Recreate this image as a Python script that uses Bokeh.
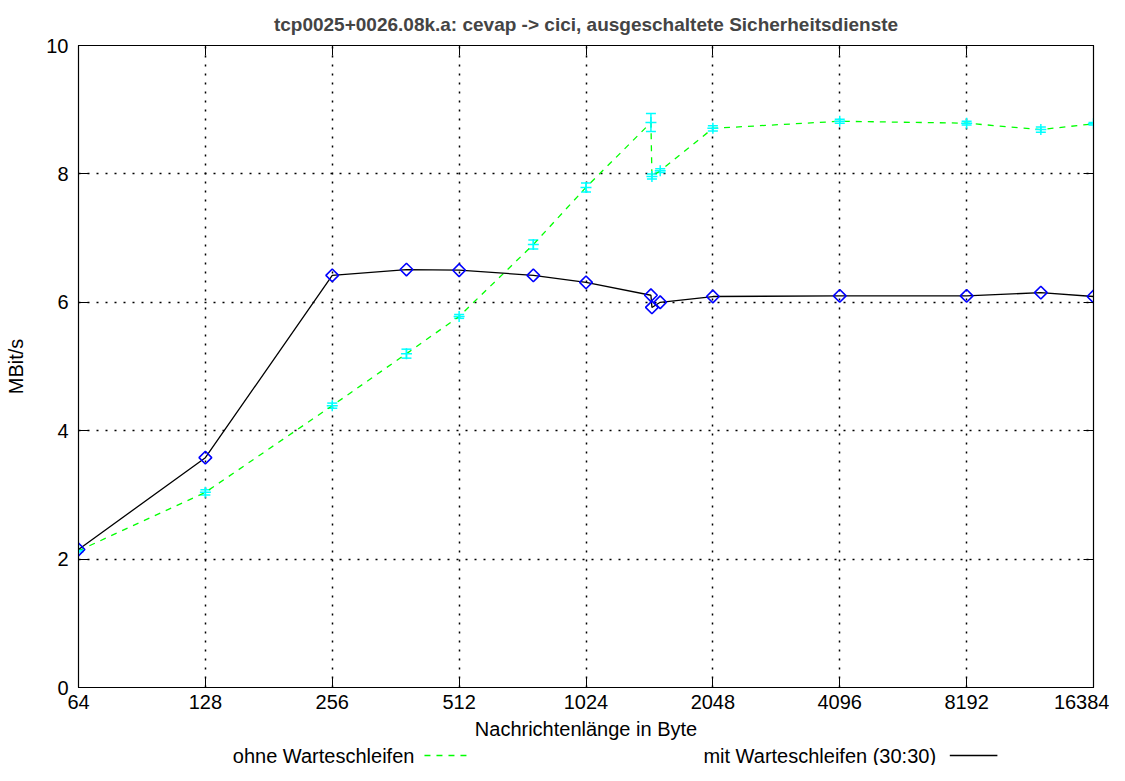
import math
from bokeh.plotting import figure
from bokeh.layouts import column
from bokeh.models import (Range1d, FixedTicker, NumeralTickFormatter, LinearAxis, LogAxis,
                          Whisker, ColumnDataSource, TeeHead)
from bokeh.core.properties import value
from bokeh.embed import file_html
from bokeh.resources import INLINE

# ---- data ----
msg_len = [64, 128, 256, 384, 512, 768, 1024, 1460, 1468, 1536, 2048, 4096, 8192, 12288, 16384]
ohne = [2.13, 3.04, 4.39, 5.20, 5.78, 6.90, 7.79, 8.80, 7.96, 8.05, 8.71, 8.82, 8.79, 8.69, 8.78]
ohne_err = [0.02, 0.04, 0.04, 0.07, 0.03, 0.07, 0.07, 0.14, 0.04, 0.03, 0.04, 0.03, 0.03, 0.04, 0.02]
mit = [2.15, 3.58, 6.42, 6.51, 6.50, 6.42, 6.31, 6.11, 5.92, 6.00, 6.09, 6.10, 6.10, 6.15, 6.09]
x_ticks = [64, 128, 256, 512, 1024, 2048, 4096, 8192, 16384]
y_ticks = [0, 2, 4, 6, 8, 10]
title = "tcp0025+0026.08k.a: cevap -> cici, ausgeschaltete Sicherheitsdienste"
label_ohne = "ohne Warteschleifen"
label_mit = "mit Warteschleifen (30:30)"

FONT = "Liberation Sans"
FS = "20px"
W = 1109
H_MAIN = 742
H_LEG = 23

p = figure(width=W, height=H_MAIN, x_axis_type="log",
           x_range=Range1d(64, 16384), y_range=Range1d(0, 10),
           output_backend="svg", toolbar_location=None,
           min_border_left=78, min_border_right=16, min_border_top=45,
           min_border_bottom=H_MAIN - 687)

p.title.text = title
p.title.text_font = FONT
p.title.text_font_size = "19px"
p.title.text_font_style = "bold"
p.title.align = "center"
p.title.offset = 0
p.title.standoff = 22

p.outline_line_color = "black"
p.outline_line_width = 1.2
p.background_fill_color = "white"
p.border_fill_color = "white"

# axes
xa = p.xaxis[0]
xa.ticker = FixedTicker(ticks=x_ticks)
xa.formatter = NumeralTickFormatter(format="0")
ya = p.yaxis[0]
ya.ticker = FixedTicker(ticks=y_ticks)
for ax in (xa, ya):
    ax.major_tick_in = 10
    ax.major_tick_out = 0
    ax.minor_tick_in = 0
    ax.minor_tick_out = 0
    ax.axis_line_color = "black"
    ax.major_tick_line_color = "black"
    ax.major_label_text_font = FONT
    ax.major_label_text_font_size = FS
    ax.major_label_text_color = "black"
    ax.axis_label_text_font = FONT
    ax.axis_label_text_font_size = FS
    ax.axis_label_text_font_style = "normal"
    ax.axis_label_text_color = "black"
xa.axis_label = "Nachrichtenlänge in Byte"
xa.major_label_standoff = 7
xa.axis_label_standoff = 6
ya.axis_label = "MBit/s"
ya.major_label_standoff = 10
ya.axis_label_standoff = 16

# mirror axes (ticks only, no labels)
ra = LinearAxis(ticker=FixedTicker(ticks=y_ticks), major_tick_in=10, major_tick_out=0,
                minor_tick_in=0, minor_tick_out=0, major_label_standoff=0,
                major_label_overrides={t: "" for t in y_ticks},
                axis_line_color="black", major_tick_line_color="black")
ta = LogAxis(ticker=FixedTicker(ticks=x_ticks), major_tick_in=10, major_tick_out=0,
             minor_tick_in=0, minor_tick_out=0, major_label_standoff=0,
             major_label_overrides={t: "" for t in x_ticks},
             axis_line_color="black", major_tick_line_color="black")
p.add_layout(ra, "right")
p.add_layout(ta, "above")

# grid
p.xgrid.ticker = FixedTicker(ticks=x_ticks)
p.ygrid.ticker = FixedTicker(ticks=y_ticks)
for g in (p.xgrid[0], p.ygrid[0]):
    g.grid_line_color = "black"
    g.grid_line_dash = "2 7"
    g.grid_line_width = 1.5

src = ColumnDataSource(dict(
    x=msg_len, ohne=ohne, mit=mit,
    lo=[o - e for o, e in zip(ohne, ohne_err)],
    hi=[o + e for o, e in zip(ohne, ohne_err)],
))

# ohne Warteschleifen
p.line("x", "ohne", source=src, line_color="#00ff00", line_dash="6 6", line_width=1.3)
w = Whisker(source=src, base="x", upper="hi", lower="lo", dimension="height",
            line_color="#00ffff", line_width=1.5,
            upper_head=TeeHead(size=10, line_color="#00ffff", line_width=1.5),
            lower_head=TeeHead(size=10, line_color="#00ffff", line_width=1.5))
p.add_layout(w)
p.scatter("x", "ohne", source=src, marker="cross", size=11, line_color="#00ffff", line_width=1.5)

# mit Warteschleifen
p.line("x", "mit", source=src, line_color="black", line_width=1.3)
p.scatter("x", "mit", source=src, marker="square", angle=math.pi / 4, size=9, fill_color=None,
          line_color="#0000ff", line_width=1.6)

# ---- legend strip (text left, sample right, gnuplot style) ----
leg = figure(width=W, height=H_LEG, x_range=Range1d(0, W), y_range=Range1d(H_LEG, 0),
             output_backend="svg", toolbar_location=None, min_border=0,
             x_axis_type=None, y_axis_type=None, outline_line_color=None)
leg.xgrid.visible = False
leg.ygrid.visible = False
LY = 13
leg.text(x=[367, 937], y=[LY, LY], text=[label_ohne, label_mit], text_align="right",
         text_baseline="middle", text_font=value(FONT), text_font_size=value(FS),
         text_color="black")
leg.line(x=[378, 428], y=[LY, LY], line_color="#00ff00", line_dash="6 6", line_width=1.6)
leg.line(x=[952, 1004], y=[LY, LY], line_color="black", line_width=1.3)

layout = column(p, leg, spacing=0)
open("out.html", "w").write(file_html(layout, INLINE))
